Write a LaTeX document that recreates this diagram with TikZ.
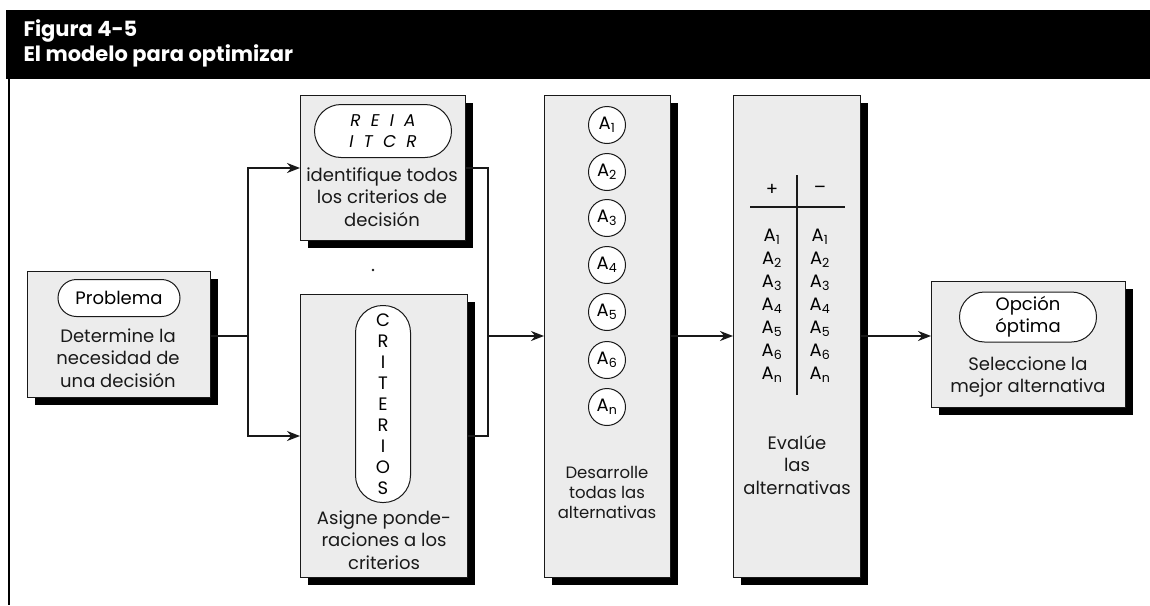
\documentclass[tikz,border=0pt]{standalone}
\usepackage{fontspec}
\setmainfont{Poppins}
\usepackage{tikz}
\usetikzlibrary{shapes,arrows.meta,positioning,shadows,calc}
\definecolor{paper}{RGB}{236,236,236}
\definecolor{ink}{RGB}{25,25,25}

\begin{document}
\begin{tikzpicture}[x=1pt, y=-1pt, >={Stealth[length=13pt,width=10pt]},
    font=\fontsize{18}{22.5}\selectfont,
    box/.style={draw=ink, line width=1pt, fill=paper, anchor=north west,
      drop shadow={shadow xshift=7pt, shadow yshift=-7pt, fill=black, opacity=1}},
    oval/.style={draw=ink, line width=1pt, fill=white, rounded rectangle, inner sep=0pt, align=center},
    alt/.style={draw=ink, line width=1pt, fill=white, circle, minimum size=37pt, inner sep=0pt},
    label/.style={align=center, text=ink},
    link/.style={line width=1.8pt, draw=ink}]
    \useasboundingbox (0,0) rectangle (1150,605);

    % Title bar
    \fill[black] (6,10) rectangle (1150,79);
    \node[anchor=west, text=white, font=\bfseries\fontsize{21}{22}\selectfont] (fig) at (20,31) {Figura 4-5};
    \node[anchor=west, text=white, font=\bfseries\fontsize{21}{22}\selectfont] (title) at (20,56) {El modelo para optimizar};
    \draw[line width=2.5pt] (9,79) -- (9,605);

    % Boxes
    \node[box, minimum width=183pt, minimum height=126pt] (prob) at (27,271) {};
    \node[box, minimum width=165pt, minimum height=145pt] (ident) at (300,95) {};
    \node[box, minimum width=167pt, minimum height=283pt] (pond) at (300,294) {};
    \node[box, minimum width=126pt, minimum height=482pt] (gen) at (544,95) {};
    \node[box, minimum width=127pt, minimum height=482pt] (eval) at (733,95) {};
    \node[box, minimum width=194pt, minimum height=126pt] (best) at (931,281) {};

    % Problema
    \node[oval, minimum width=122pt, minimum height=37pt] (probtag) at (119,298) {Problema};
    \node[label] (probtxt) at (118,358) {Determine la\\necesidad de\\una decisión};

    % Criterios
    \node[oval, minimum width=137pt, minimum height=53pt, font=\itshape\fontsize{17}{21}\selectfont] (identtag) at (383,131) {R\ \ E\ \ I\ \ A\\I\ \ T\ \ C\ \ R};
    \node[label] (identtxt) at (382,197) {identifique todos\\los criterios de\\decisión};
    \fill[ink] (373,270) circle (1.3);

    % Ponderaciones
    \node[draw=ink, line width=1pt, fill=white, rounded corners=27pt, minimum width=55pt, minimum height=197pt,
      align=center, inner sep=0pt, font=\fontsize{18}{21}\selectfont] (pondtag) at (383,404) {C\\R\\I\\T\\E\\R\\I\\O\\S};
    \node[label] (pondtxt) at (384,540) {Asigne ponde-\\raciones a los\\criterios};

    % Alternativas
    \foreach \i/\y in {1/125,2/172,3/218,4/265,5/312,6/360,n/407}
      \node[alt] (a\i) at (607,\y) {A\textsubscript{\i}};
    \node[label, font=\fontsize{16.5}{20}\selectfont] (gentxt) at (607,492) {Desarrolle\\todas las\\alternativas};

    % Evaluacion
    \node (plus) at (772,190) {+};
    \node (minus) at (820,190) {--};
    \draw[line width=1.8pt, ink] (750,207) -- (845,207);
    \draw[line width=1.8pt, ink] (797,175) -- (797,395);
    \foreach \i [count=\k from 0] in {1,2,3,4,5,6,n} {
      \node (p\i) at (772,237+23*\k) {A\textsubscript{\i}};
      \node (m\i) at (820,237+23*\k) {A\textsubscript{\i}};
    }
    \node[label] (evaltxt) at (797,465) {Evalúe\\las\\alternativas};

    % Opcion optima
    \node[oval, minimum width=137pt, minimum height=50pt, font=\fontsize{18}{22}\selectfont] (besttag) at (1028,317) {Opción\\óptima};
    \node[label] (besttxt) at (1028,377) {Seleccione la\\mejor alternativa};

    % Connectors
    \coordinate (split) at (248,336);
    \coordinate (merge) at (488,336);
    \draw[link] (prob.east |- split) -- (split);
    \draw[link, ->] (split) |- (ident.west);
    \draw[link, ->] (split) |- (pond.west);
    \draw[link] (ident.east) -| (merge);
    \draw[link] (pond.east) -| (merge);
    \draw[link, ->] (merge) -- (gen.west |- merge);
    \draw[link, ->] (gen.east |- merge) -- (eval.west |- merge);
    \draw[link, ->] (eval.east |- merge) -- (best.west |- merge);
\end{tikzpicture}
\end{document}
